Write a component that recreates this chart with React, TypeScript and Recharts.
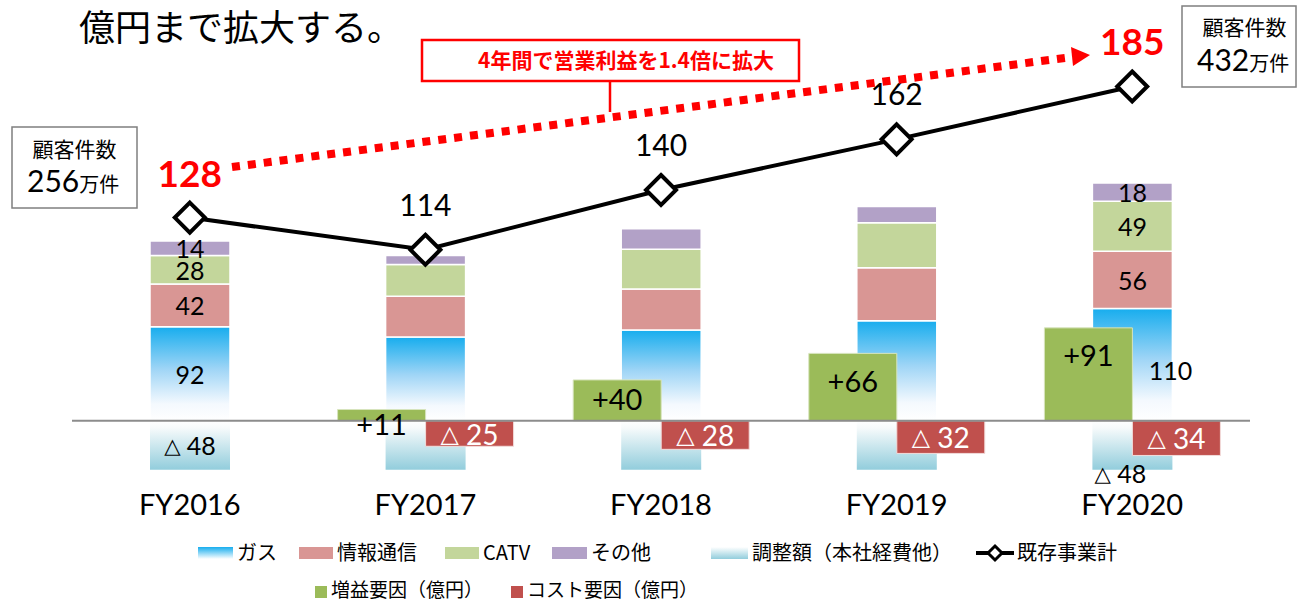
import React from 'react';
import { ComposedChart, Bar, Line, XAxis, YAxis, LabelList, ReferenceLine } from 'recharts';

// ---- data ----
const categories = ['FY2016', 'FY2017', 'FY2018', 'FY2019', 'FY2020'];
const gas = [92, 82, 89, 98, 110];
const info = [42, 40, 40, 52, 56];
const catv = [28, 31, 39, 44, 49];
const other = [14, 9, 20, 16, 18];
const adjustment = [-48, -48, -48, -48, -48];
const gain = [null, 11, 40, 66, 91];
const cost = [null, -25, -28, -32, -34];
const existingTotal = [128, 114, 140, 162, 185];
const labeledYears = ['FY2016', 'FY2020'];

const data = categories.map((name, i) => ({
  name,
  gas: gas[i],
  info: info[i],
  catv: catv[i],
  other: other[i],
  adjustment: adjustment[i],
  gain: gain[i],
  cost: cost[i],
  total: existingTotal[i],
}));

const NUM_FONT = "Lato, 'Noto Sans CJK JP', sans-serif";
const JP_FONT = "'Noto Sans CJK JP', sans-serif";
const TRI_FONT = "'DejaVu Sans', sans-serif";

const C = {
  info: '#D99694',
  catv: '#C3D69B',
  other: '#B2A1C7',
  gain: '#9BBB59',
  cost: '#C0504D',
  red: '#FF0000',
};

const Tri = ({ v, size }: { v: number; size: number }) => (
  <>
    <tspan fontFamily={TRI_FONT} fontSize={size * 0.85}>△</tspan>
    <tspan>{` ${Math.abs(v)}`}</tspan>
  </>
);

const boxOf = (p: any) => {
  const y = Number(p.y);
  const h = Number(p.height);
  const top = Math.min(y, y + h);
  return { x: Number(p.x), w: Number(p.width), top, h: Math.abs(h) };
};

const stackLabel = (key: string) => (p: any) => {
  const idx = p.index;
  if (!labeledYears.includes(categories[idx])) return null;
  const b = boxOf(p);
  let cx = b.x + b.w / 2;
  let cy = b.top + b.h / 2;
  const last = idx === categories.length - 1;
  if (key === 'gas' && last) {
    cx = b.x + b.w / 2 + 38;
    cy = cy + 5;
  }
  if (key === 'adjustment' && last) {
    cx = b.x + b.w / 2 - 12;
    cy = b.top + b.h + 3;
  }
  return (
    <text x={cx} y={cy} textAnchor="middle" dominantBaseline="central" fontSize={25} fontFamily={NUM_FONT} fill="#000">
      {key === 'adjustment' ? <Tri v={p.value} size={25} /> : String(p.value)}
    </text>
  );
};

const gainLabel = (p: any) => {
  if (p.value == null) return null;
  const b = boxOf(p);
  const cy = b.h < 50 ? b.top + b.h / 2 + (b.h < 20 ? 8 : -2) : b.top + 27;
  return (
    <text x={b.x + b.w / 2} y={cy} textAnchor="middle" dominantBaseline="central" fontSize={29} fontFamily={NUM_FONT} fill="#000">
      {`+${p.value}`}
    </text>
  );
};

const costLabel = (p: any) => {
  if (p.value == null) return null;
  const b = boxOf(p);
  return (
    <text x={b.x + b.w / 2} y={b.top + b.h / 2} textAnchor="middle" dominantBaseline="central" fontSize={28} fontFamily={NUM_FONT} fill="#fff">
      <Tri v={p.value} size={28} />
    </text>
  );
};

const lineLabel = (p: any) => {
  const idx = p.index;
  const emph = idx === 0 || idx === categories.length - 1;
  return (
    <text
      x={Number(p.x)}
      y={Number(p.y) - (emph ? 31 : 34)}
      textAnchor="middle"
      fontSize={emph ? 37 : 30}
      fontWeight={emph ? 700 : 400}
      fontFamily={NUM_FONT}
      fill={emph ? C.red : '#000'}
    >
      {p.value}
    </text>
  );
};

const Diamond = (p: any) => {
  const { cx, cy, index } = p;
  if (cx == null || cy == null) return <g key={`d${index}`} />;
  const r = 15;
  return (
    <polygon
      key={`d${index}`}
      points={`${cx},${cy - r} ${cx + r},${cy} ${cx},${cy + r} ${cx - r},${cy}`}
      fill="#fff"
      stroke="#000"
      strokeWidth={4}
      strokeLinejoin="miter"
    />
  );
};

const XTick = (p: any) => (
  <text x={p.x} y={p.y - 5} textAnchor="middle" fontSize={29} fontFamily={NUM_FONT} fill="#000">
    {p.payload.value}
  </text>
);

const GradDefs = () => (
  <defs>
    <linearGradient id="gasGrad" x1="0" y1="0" x2="0" y2="1">
      <stop offset="0" stopColor="#17ADEE" />
      <stop offset="0.45" stopColor="#9FD5F6" />
      <stop offset="0.82" stopColor="#F4F9FE" />
      <stop offset="1" stopColor="#FFFFFF" />
    </linearGradient>
    <linearGradient id="adjGrad" x1="0" y1="0" x2="0" y2="1">
      <stop offset="0" stopColor="#FFFFFF" />
      <stop offset="0.15" stopColor="#F6FAFB" />
      <stop offset="1" stopColor="#92CDDC" />
    </linearGradient>
  </defs>
);

const legendRow1 = [
  { label: 'ガス', fill: 'url(#gasGradL)', x: 198, w: 35 },
  { label: '情報通信', fill: C.info, x: 299, w: 34 },
  { label: 'CATV', fill: C.catv, x: 445, w: 34 },
  { label: 'その他', fill: C.other, x: 552, w: 35 },
  { label: '調整額（本社経費他）', fill: 'url(#adjGradL)', x: 711, w: 37 },
];
const legendRow2 = [
  { label: '増益要因（億円）', fill: C.gain, x: 315 },
  { label: 'コスト要因（億円）', fill: C.cost, x: 511 },
];

const Overlay = () => (
  <svg width={1298} height={602} style={{ position: 'absolute', left: 0, top: 0, pointerEvents: 'none' }}>
    <defs>
      <linearGradient id="gasGradL" x1="0" y1="0" x2="0" y2="1">
        <stop offset="0" stopColor="#17ADEE" />
        <stop offset="1" stopColor="#FFFFFF" />
      </linearGradient>
      <linearGradient id="adjGradL" x1="0" y1="0" x2="0" y2="1">
        <stop offset="0" stopColor="#FFFFFF" />
        <stop offset="1" stopColor="#92CDDC" />
      </linearGradient>
    </defs>
    {/* title */}
    <text x={79} y={41} fontSize={36} fontFamily={JP_FONT} fill="#000">億円まで拡大する。</text>

    {/* customer boxes */}
    <rect x={12} y={127} width={125} height={81} fill="#fff" stroke="#7F7F7F" strokeWidth={1.5} />
    <text x={74.5} y={157} textAnchor="middle" fontSize={21} fontFamily={JP_FONT} fill="#000">顧客件数</text>
    <text x={27} y={192} fontFamily={NUM_FONT} fill="#000">
      <tspan fontSize={30}>256</tspan>
      <tspan fontSize={20} fontFamily={JP_FONT}>万件</tspan>
    </text>

    <rect x={1182} y={6} width={114} height={81} fill="#fff" stroke="#7F7F7F" strokeWidth={1.5} />
    <text x={1244.5} y={35} textAnchor="middle" fontSize={21} fontFamily={JP_FONT} fill="#000">顧客件数</text>
    <text x={1197} y={71} fontFamily={NUM_FONT} fill="#000">
      <tspan fontSize={30}>432</tspan>
      <tspan fontSize={20} fontFamily={JP_FONT}>万件</tspan>
    </text>

    {/* dotted growth arrow */}
    <line x1={232} y1={167} x2={1072} y2={57} stroke={C.red} strokeWidth={8} strokeDasharray="8 8" />
    <polygon points="1090,55 1071,47 1073,66" fill={C.red} />

    {/* callout */}
    <line x1={610} y1={81} x2={610} y2={112} stroke={C.red} strokeWidth={2.5} />
    <rect x={422} y={40} width={377} height={41} fill="#fff" stroke={C.red} strokeWidth={2.5} />
    <text x={626} y={68} textAnchor="middle" fontSize={21} fontWeight={700} fontFamily={JP_FONT} fill={C.red}>
      4年間で営業利益を1.4倍に拡大
    </text>

    {/* legend */}
    {legendRow1.map((it) => (
      <g key={it.label}>
        <rect x={it.x} y={547} width={it.w} height={12} fill={it.fill} />
        <text x={it.x + it.w + 4} y={560} fontSize={20} fontFamily={JP_FONT} fill="#000">{it.label}</text>
      </g>
    ))}
    <g>
      <line x1={976} y1={553} x2={1014} y2={553} stroke="#000" strokeWidth={4} />
      <polygon points="995,546 1002,553 995,560 988,553" fill="#fff" stroke="#000" strokeWidth={3} />
      <text x={1017} y={560} fontSize={20} fontFamily={JP_FONT} fill="#000">既存事業計</text>
    </g>
    {legendRow2.map((it) => (
      <g key={it.label}>
        <rect x={it.x} y={586} width={12} height={12} fill={it.fill} />
        <text x={it.x + 16} y={597} fontSize={19} fontFamily={JP_FONT} fill="#000">{it.label}</text>
      </g>
    ))}
  </svg>
);

export default function App() {
  return (
    <div style={{ position: 'absolute', left: 0, top: 0, width: 1298, height: 602, background: '#fff' }}>
      <ComposedChart
        width={1298}
        height={602}
        data={data}
        margin={{ top: 40, right: 48, bottom: 80, left: 72 }}
        stackOffset="sign"
        barGap={0}
      >
        <GradDefs />
        <XAxis xAxisId="main" dataKey="name" height={40} axisLine={false} tickLine={false} tick={<XTick />} interval={0} />
        <XAxis xAxisId="gr" dataKey="name" hide />
        <YAxis yAxisId="bars" type="number" domain={[-60, 373]} hide />
        <YAxis yAxisId="line" type="number" domain={[13.04, 205.2]} hide />

        <Bar xAxisId="main" yAxisId="bars" dataKey="gas" stackId="main" barSize={80} fill="url(#gasGrad)" stroke="#fff" strokeWidth={1.5} isAnimationActive={false}>
          <LabelList dataKey="gas" content={stackLabel('gas')} />
        </Bar>
        <Bar xAxisId="main" yAxisId="bars" dataKey="info" stackId="main" barSize={80} fill={C.info} stroke="#fff" strokeWidth={1.5} isAnimationActive={false}>
          <LabelList dataKey="info" content={stackLabel('info')} />
        </Bar>
        <Bar xAxisId="main" yAxisId="bars" dataKey="catv" stackId="main" barSize={80} fill={C.catv} stroke="#fff" strokeWidth={1.5} isAnimationActive={false}>
          <LabelList dataKey="catv" content={stackLabel('catv')} />
        </Bar>
        <Bar xAxisId="main" yAxisId="bars" dataKey="other" stackId="main" barSize={80} fill={C.other} stroke="#fff" strokeWidth={1.5} isAnimationActive={false}>
          <LabelList dataKey="other" content={stackLabel('other')} />
        </Bar>
        <Bar xAxisId="main" yAxisId="bars" dataKey="adjustment" stackId="main" barSize={80} fill="url(#adjGrad)" isAnimationActive={false}>
          <LabelList dataKey="adjustment" content={stackLabel('adjustment')} />
        </Bar>

        <Bar xAxisId="gr" yAxisId="bars" dataKey="gain" barSize={88} fill={C.gain} stroke="#D7E4BD" strokeWidth={1} isAnimationActive={false}>
          <LabelList dataKey="gain" content={gainLabel} />
        </Bar>
        <Bar xAxisId="gr" yAxisId="bars" dataKey="cost" barSize={88} fill={C.cost} stroke="#F2DCDB" strokeWidth={1} isAnimationActive={false}>
          <LabelList dataKey="cost" content={costLabel} />
        </Bar>

        <ReferenceLine xAxisId="main" yAxisId="bars" y={0} stroke="#8C8C8C" strokeWidth={2} />

        <Line
          xAxisId="main"
          yAxisId="line"
          dataKey="total"
          stroke="#000"
          strokeWidth={4}
          dot={Diamond}
          activeDot={false}
          isAnimationActive={false}
        >
          <LabelList dataKey="total" content={lineLabel} />
        </Line>
      </ComposedChart>
      <Overlay />
    </div>
  );
}
